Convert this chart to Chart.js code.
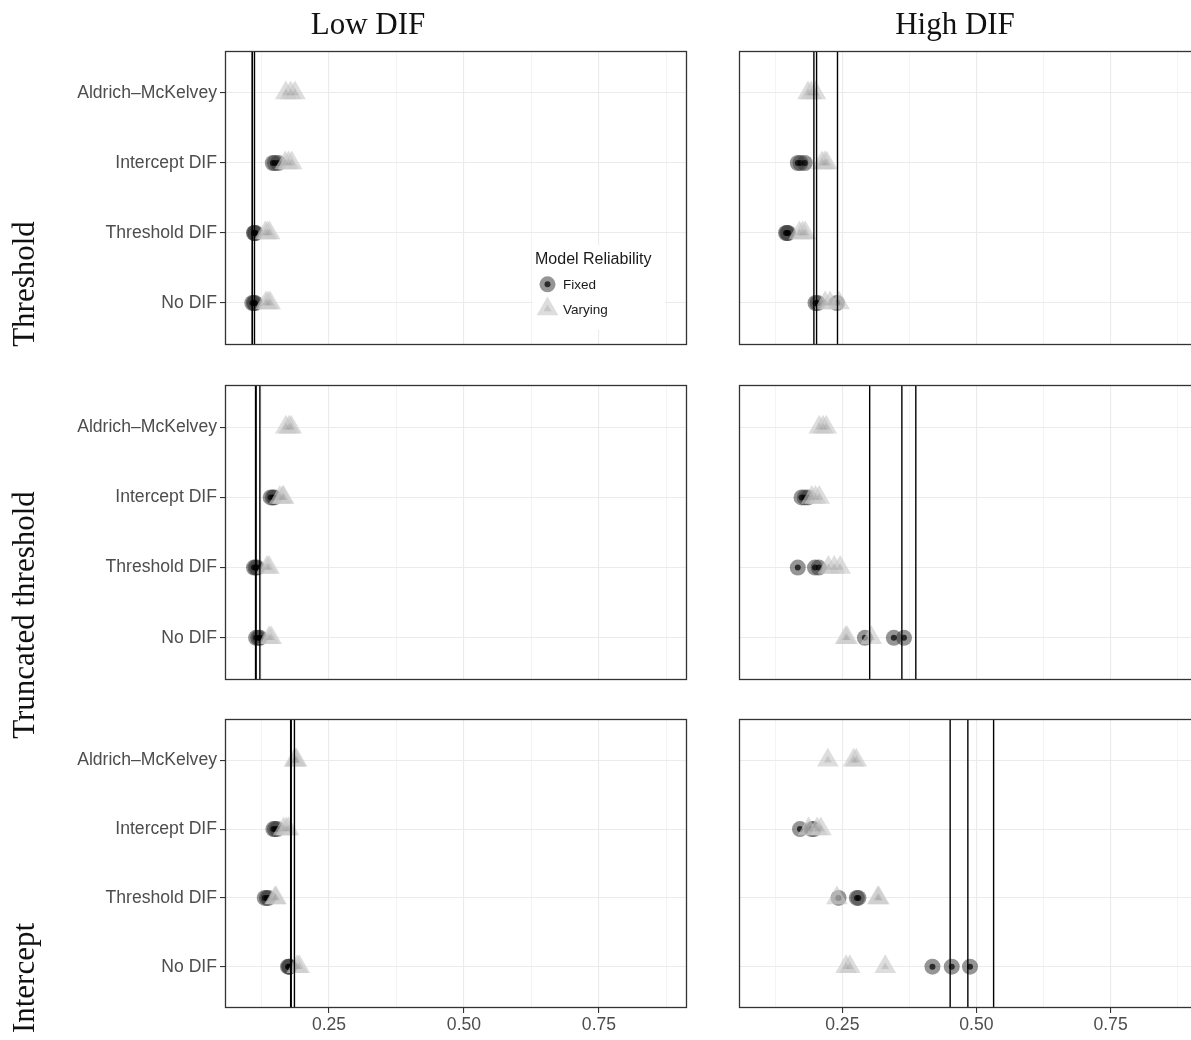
<!DOCTYPE html>
<html>
<head>
<meta charset="utf-8">
<title>Estimated DIF by model</title>
<script src="https://cdn.jsdelivr.net/npm/chart.js@4.4.1/dist/chart.umd.min.js"></script>
<style>
  html, body { margin: 0; padding: 0; background: #ffffff; }
  body { width: 1191px; height: 1040px; overflow: hidden; position: relative;
         font-family: 'Liberation Sans', Arial, sans-serif; }
  canvas { position: absolute; }
  .strip { position: absolute; font-family: 'Liberation Serif', 'Times New Roman', serif;
           font-size: 31px; line-height: 31px; color: #111; white-space: nowrap; }
  .rowlab { transform: translate(-50%, -50%) rotate(-90deg); }
  .collab { transform: translateX(-50%); }
  .leg { position: absolute; white-space: nowrap; color: #1a1a1a; }
</style>
</head>
<body>
<script>
// Methods on the vertical axis, listed from the bottom of each panel upwards
const methods = ['No DIF', 'Threshold DIF', 'Intercept DIF', 'Aldrich\u2013McKelvey'];
// Facet labels
const dgpRows = ['Threshold', 'Truncated threshold', 'Intercept'];
const difCols = ['Low DIF', 'High DIF'];
// Horizontal axis breaks
const xMajorTicks = [0.25, 0.50, 0.75];
const xMinorTicks = [0.125, 0.375, 0.625, 0.875];
const xMin = 0.0574;
const xMax = 0.913;
// Legend
const legendTitle = 'Model Reliability';
const reliabilityLevels = ['Fixed', 'Varying'];

// Estimates per method (same order as `methods`); vertical lines mark the true values
const thresholdLowFixed   = [[0.108, 0.111, 0.113], [0.111, 0.112, 0.114], [0.146, 0.150, 0.156], []];
const thresholdLowVarying = [[0.133, 0.137, 0.141], [0.132, 0.136, 0.140], [0.169, 0.175, 0.181], [0.170, 0.179, 0.187]];
const thresholdLowTruth   = [0.108, 0.108, 0.112];

const thresholdHighFixed   = [[0.200, 0.204, 0.240], [0.145, 0.147, 0.149], [0.167, 0.172, 0.180], []];
const thresholdHighVarying = [[0.218, 0.227, 0.244], [0.170, 0.176, 0.181], [0.212, 0.217, 0.221], [0.186, 0.192, 0.200]];
const thresholdHighTruth   = [0.197, 0.202, 0.241];

const truncLowFixed   = [[0.115, 0.119, 0.122], [0.111, 0.114, 0.117], [0.142, 0.146, 0.149], []];
const truncLowVarying = [[0.139, 0.143], [0.135, 0.139], [0.159, 0.164, 0.166], [0.170, 0.176, 0.180]];
const truncLowTruth   = [0.114, 0.115, 0.122];

const truncHighFixed   = [[0.292, 0.346, 0.365], [0.167, 0.199, 0.206], [0.174, 0.180, 0.186], []];
const truncHighVarying = [[0.256, 0.259, 0.304], [0.224, 0.235, 0.246], [0.193, 0.200, 0.207], [0.207, 0.214, 0.220]];
const truncHighTruth   = [0.301, 0.361, 0.387];

const interceptLowFixed   = [[0.174, 0.176, 0.177], [0.131, 0.135, 0.138], [0.147, 0.150, 0.154], []];
const interceptLowVarying = [[0.191, 0.195], [0.150, 0.152], [0.166, 0.171, 0.175], [0.186, 0.188, 0.190]];
const interceptLowTruth   = [0.179, 0.180, 0.186];

const interceptHighFixed   = [[0.418, 0.454, 0.488], [0.243, 0.277, 0.280], [0.171, 0.193, 0.197], []];
const interceptHighVarying = [[0.257, 0.264, 0.330], [0.240, 0.316, 0.318], [0.187, 0.203, 0.210], [0.223, 0.271, 0.276]];
const interceptHighTruth   = [0.451, 0.484, 0.532];

const panels = [
  { row: 0, col: 0, fixed: thresholdLowFixed,   varying: thresholdLowVarying,   truth: thresholdLowTruth },
  { row: 0, col: 1, fixed: thresholdHighFixed,  varying: thresholdHighVarying,  truth: thresholdHighTruth },
  { row: 1, col: 0, fixed: truncLowFixed,       varying: truncLowVarying,       truth: truncLowTruth },
  { row: 1, col: 1, fixed: truncHighFixed,      varying: truncHighVarying,      truth: truncHighTruth },
  { row: 2, col: 0, fixed: interceptLowFixed,   varying: interceptLowVarying,   truth: interceptLowTruth },
  { row: 2, col: 1, fixed: interceptHighFixed,  varying: interceptHighVarying,  truth: interceptHighTruth }
];

// Page geometry of the facet grid
const rowGeom = [
  { top: 40,  height: 330, padTop: 11, xAxisH: 25 },
  { top: 375, height: 330, padTop: 10, xAxisH: 25 },
  { top: 710, height: 330, padTop: 9,  xAxisH: 32 }
];
const colGeom = [
  { left: 0,   width: 690, yAxisW: 225, padRight: 3 },
  { left: 700, width: 520, yAxisW: 39,  padRight: 22 }
];

// Marker styles
const fixedOuter   = { pointStyle: 'circle',   radius: 8,    color: 'rgba(51,51,51,0.52)' };
const fixedInner   = { pointStyle: 'circle',   radius: 3,    color: 'rgba(0,0,0,0.7)' };
const varyingOuter = { pointStyle: 'triangle', radius: 12.5, color: 'rgba(200,200,200,0.62)' };
const varyingInner = { pointStyle: 'triangle', radius: 4.5,  color: 'rgba(150,150,150,0.3)' };

function toPoints(values) {
  const pts = [];
  values.forEach((vals, i) => vals.forEach(v => pts.push({ x: v, y: i })));
  return pts;
}

function markerSet(data, style, order) {
  return {
    type: 'scatter', data: data, order: order,
    pointStyle: style.pointStyle, pointRadius: style.radius, pointHoverRadius: style.radius,
    pointBackgroundColor: style.color, pointBorderWidth: 0, pointBorderColor: 'rgba(0,0,0,0)'
  };
}

const isMajor = v => xMajorTicks.includes(v);

// Panel frame, plus the legend inside the first panel
const framePlugin = {
  id: 'frame',
  beforeDatasetsDraw(chart, args, opts) {
    if (!opts.legend) return;
    const ctx = chart.ctx;
    ctx.save();
    ctx.fillStyle = '#ffffff';
    ctx.fillRect(533, 245 - opts.top, 132, 85);
    ctx.restore();
  },
  afterDatasetsDraw(chart, args, opts) {
    const ctx = chart.ctx;
    if (opts.legend) {
      const draw = (st, x, y) => {
        ctx.fillStyle = st.color;
        Chart.helpers.drawPoint(ctx, { pointStyle: st.pointStyle, radius: st.radius, rotation: 0, borderWidth: 0 }, x, y);
      };
      ctx.save();
      draw(fixedOuter, 547.5, 284.3 - opts.top);
      draw(fixedInner, 547.5, 284.3 - opts.top);
      draw(varyingOuter, 547.5, 309 - opts.top);
      draw(varyingInner, 547.5, 309 - opts.top);
      ctx.restore();
    }
    const a = chart.chartArea;
    ctx.save();
    ctx.strokeStyle = '#333333';
    ctx.lineWidth = 1.3;
    const l = Math.round(a.left) + 0.5, t = Math.round(a.top) + 0.5;
    const r = Math.round(a.right) - 0.5, b = Math.round(a.bottom) - 0.5;
    ctx.strokeRect(l, t, r - l, b - t);
    ctx.restore();
  }
};

panels.forEach((p, idx) => {
  const rg = rowGeom[p.row], cg = colGeom[p.col];
  const bottomRow = p.row === rowGeom.length - 1;
  const leftCol = p.col === 0;

  const canvas = document.createElement('canvas');
  canvas.width = cg.width;
  canvas.height = rg.height;
  canvas.style.left = cg.left + 'px';
  canvas.style.top = rg.top + 'px';
  canvas.style.width = cg.width + 'px';
  canvas.style.height = rg.height + 'px';
  document.body.appendChild(canvas);

  const lineSets = p.truth.map(v => ({
    type: 'line', order: 0,
    data: [{ x: v, y: -0.6 }, { x: v, y: 3.6 }],
    borderColor: '#000000', borderWidth: 1.4, pointRadius: 0, pointHoverRadius: 0, fill: false, tension: 0
  }));
  const fixedPts = toPoints(p.fixed);
  const varyingPts = toPoints(p.varying);

  new Chart(canvas, {
    type: 'scatter',
    data: {
      datasets: [
        ...lineSets,
        markerSet(varyingPts, varyingInner, 1),
        markerSet(varyingPts, varyingOuter, 2),
        markerSet(fixedPts, fixedInner, 3),
        markerSet(fixedPts, fixedOuter, 4)
      ]
    },
    options: {
      responsive: false,
      maintainAspectRatio: false,
      animation: false,
      devicePixelRatio: 1,
      events: [],
      layout: { autoPadding: false, padding: { top: rg.padTop, right: cg.padRight, bottom: 0, left: 0 } },
      plugins: {
        legend: { display: false },
        tooltip: { enabled: false },
        frame: { legend: idx === 0, top: rg.top }
      },
      scales: {
        x: {
          type: 'linear', min: xMin, max: xMax,
          afterBuildTicks: s => {
            s.ticks = [...xMinorTicks, ...xMajorTicks].sort((a, b) => a - b).map(v => ({ value: v }));
          },
          afterFit: s => {
            s.height = rg.xAxisH;
            s.paddingLeft = 0; s.paddingRight = 0; s.paddingTop = 0; s.paddingBottom = 0;
          },
          ticks: {
            display: bottomRow, autoSkip: false, maxRotation: 0, padding: 2,
            callback: v => isMajor(v) ? v.toFixed(2) : '',
            font: { family: "'Liberation Sans', Arial, sans-serif", size: 17.6 },
            color: '#4d4d4d'
          },
          grid: {
            color: '#ebebeb',
            lineWidth: c => (c.tick && isMajor(c.tick.value)) ? 1.1 : 0.55,
            drawTicks: bottomRow, tickLength: 5, tickWidth: 1.1,
            tickColor: c => (c.tick && isMajor(c.tick.value)) ? '#333333' : 'rgba(0,0,0,0)'
          },
          border: { display: false }
        },
        y: {
          type: 'linear', min: -0.6, max: 3.6, position: 'left',
          afterBuildTicks: s => { s.ticks = methods.map((m, i) => ({ value: i })); },
          afterFit: s => {
            s.width = cg.yAxisW;
            s.paddingLeft = 0; s.paddingRight = 0; s.paddingTop = 0; s.paddingBottom = 0;
          },
          ticks: {
            display: leftCol, autoSkip: false, padding: 3,
            callback: v => methods[v],
            font: { family: "'Liberation Sans', Arial, sans-serif", size: 17.6 },
            color: '#4d4d4d'
          },
          grid: {
            color: '#ebebeb', lineWidth: 1.1,
            drawTicks: leftCol, tickLength: 5, tickWidth: 1.1, tickColor: '#333333'
          },
          border: { display: false }
        }
      }
    },
    plugins: [framePlugin]
  });
});

// Facet strip labels
const colCenters = [368, 955];
difCols.forEach((txt, i) => {
  const d = document.createElement('div');
  d.className = 'strip collab';
  d.textContent = txt;
  d.style.left = colCenters[i] + 'px';
  d.style.top = '8px';
  document.body.appendChild(d);
});
const rowCenters = [283.5, 615, 978];
dgpRows.forEach((txt, i) => {
  const d = document.createElement('div');
  d.className = 'strip rowlab';
  d.textContent = txt;
  d.style.left = '23px';
  d.style.top = rowCenters[i] + 'px';
  document.body.appendChild(d);
});

// Legend text
function legText(txt, left, centerY, size) {
  const d = document.createElement('div');
  d.className = 'leg';
  d.textContent = txt;
  d.style.left = left + 'px';
  d.style.top = (centerY - size / 2) + 'px';
  d.style.fontSize = size + 'px';
  d.style.lineHeight = size + 'px';
  document.body.appendChild(d);
}
legText(legendTitle, 535, 258.5, 16);
legText(reliabilityLevels[0], 563, 284.3, 13.5);
legText(reliabilityLevels[1], 563, 309.5, 13.5);
</script>
</body>
</html>
